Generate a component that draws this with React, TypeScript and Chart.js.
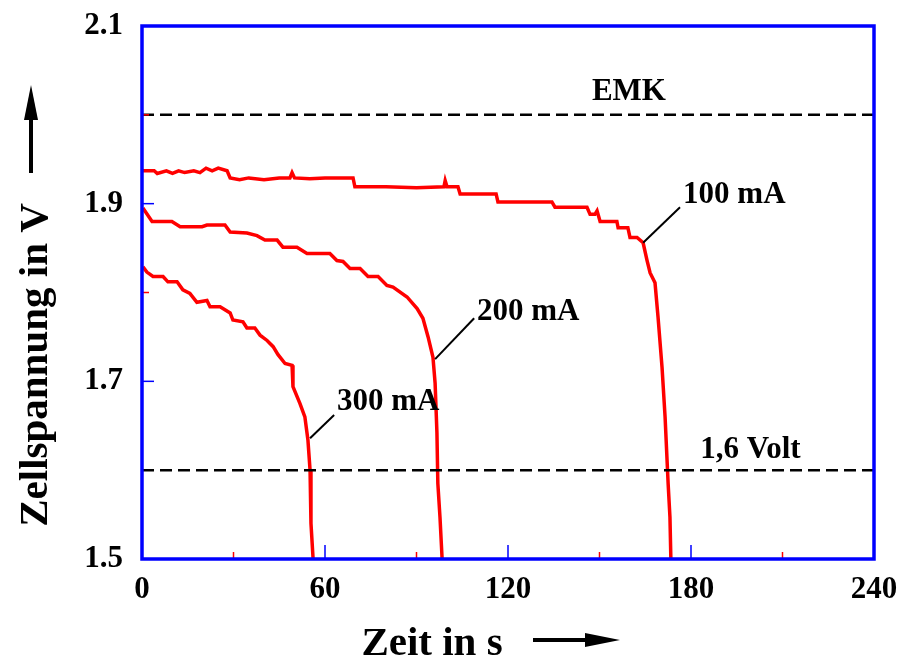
import React, { useEffect, useRef } from "react";
import { Chart, registerables } from "chart.js";

Chart.register(...registerables);

// ---- data ----
const xTicks = [0, 60, 120, 180, 240];
const yTicks = [1.5, 1.7, 1.9, 2.1];
const xMinorTicks = [30, 90, 150, 210];
const yMinorTicks = [1.8, 2.0];

const t100 = [0, 4, 5, 8, 10, 12, 14, 17, 19, 21, 23, 25, 27.9, 28.9, 32, 35, 40, 45, 48.5, 49.2, 50, 55, 60, 69.2, 69.8, 80, 90, 99, 99.4, 100, 103.6, 104.3, 116.1, 116.7, 134.4, 135.4, 145.9, 146.9, 148.5, 149.2, 150.2, 155.7, 156.1, 159.3, 160, 162.3, 164.3, 165.6, 166.6, 168.2, 169.2, 170.5, 171.5, 172.5, 173.1, 173.4];
const v100 = [1.937, 1.937, 1.934, 1.937, 1.934, 1.937, 1.935, 1.937, 1.935, 1.940, 1.937, 1.940, 1.937, 1.929, 1.927, 1.929, 1.927, 1.929, 1.929, 1.935, 1.929, 1.928, 1.929, 1.929, 1.919, 1.919, 1.918, 1.919, 1.926, 1.919, 1.919, 1.911, 1.911, 1.902, 1.902, 1.896, 1.896, 1.888, 1.888, 1.892, 1.880, 1.880, 1.873, 1.873, 1.862, 1.862, 1.856, 1.836, 1.822, 1.811, 1.772, 1.716, 1.660, 1.585, 1.547, 1.5];

const t200 = [0.3, 3.3, 9.8, 12.5, 19.7, 21.3, 27.2, 28.9, 34.4, 37.7, 40.3, 44.3, 46.2, 50.8, 54.1, 61.6, 63.9, 65.9, 68.2, 71.5, 74.1, 77.4, 80.3, 82.3, 86.9, 90.2, 92.1, 93.8, 95.4, 96.1, 96.7, 97.0, 97.7, 98.4];
const v200 = [1.895, 1.880, 1.880, 1.874, 1.874, 1.876, 1.876, 1.868, 1.867, 1.864, 1.859, 1.859, 1.851, 1.851, 1.844, 1.844, 1.836, 1.835, 1.827, 1.827, 1.818, 1.818, 1.808, 1.806, 1.795, 1.782, 1.771, 1.750, 1.727, 1.698, 1.642, 1.585, 1.547, 1.5];

const t300 = [0.3, 1.6, 3.6, 6.9, 8.5, 11.5, 13.4, 15.7, 18, 21.3, 22.3, 25.6, 28.9, 29.8, 33.1, 34.4, 37, 38.7, 41, 43, 44.6, 46.9, 49.2, 49.5, 51.8, 53.4, 54.4, 55.1, 55.4, 56.1];
const v300 = [1.829, 1.823, 1.818, 1.818, 1.812, 1.812, 1.803, 1.799, 1.789, 1.791, 1.784, 1.784, 1.777, 1.769, 1.767, 1.760, 1.760, 1.752, 1.746, 1.739, 1.730, 1.720, 1.718, 1.694, 1.675, 1.660, 1.634, 1.600, 1.540, 1.5];

const emk = 2.0;
const cutoff = 1.6;

// annotation texts (data units)
const noteText = ["EMK", "100 mA", "200 mA", "300 mA", "1,6 Volt"];
const noteX = [147.5, 177.4, 109.8, 63.9, 183];
const noteY = [2.017, 1.901, 1.769, 1.668, 1.614];
// leader lines (data units)
const leadX1 = [164.3, 96.1, 55.1];
const leadY1 = [1.856, 1.725, 1.636];
const leadX2 = [176.4, 108.9, 63.0];
const leadY2 = [1.896, 1.771, 1.662];

const xTitle = "Zeit in s";
const yTitle = "Zellspannung in V";

const FONT = "'Liberation Serif', 'Times New Roman', serif";

const toPts = (ts: number[], vs: number[]) => ts.map((t, i) => ({ x: t, y: vs[i] }));

const overlay = {
  id: "overlay",
  afterDatasetsDraw(chart: any) {
    const { ctx, chartArea, scales } = chart;
    const { left, right, top, bottom } = chartArea;
    const xs = scales.x;
    const ys = scales.y;
    ctx.save();
    // inner ticks
    ctx.lineWidth = 1.5;
    ctx.strokeStyle = "#0000ff";
    xTicks.slice(1, -1).forEach((v) => {
      const px = xs.getPixelForValue(v);
      ctx.beginPath(); ctx.moveTo(px, bottom); ctx.lineTo(px, bottom - 14); ctx.stroke();
    });
    yTicks.slice(1, -1).forEach((v) => {
      const py = ys.getPixelForValue(v);
      ctx.beginPath(); ctx.moveTo(left, py); ctx.lineTo(left + 12, py); ctx.stroke();
    });
    ctx.strokeStyle = "#ff0000";
    xMinorTicks.forEach((v) => {
      const px = xs.getPixelForValue(v);
      ctx.beginPath(); ctx.moveTo(px, bottom); ctx.lineTo(px, bottom - 7); ctx.stroke();
    });
    yMinorTicks.forEach((v) => {
      const py = ys.getPixelForValue(v);
      ctx.beginPath(); ctx.moveTo(left, py); ctx.lineTo(left + 7, py); ctx.stroke();
    });
    // border
    ctx.strokeStyle = "#0000ff";
    ctx.lineWidth = 3.5;
    ctx.strokeRect(left, top, right - left, bottom - top);
    // leader lines
    ctx.strokeStyle = "#000";
    ctx.lineWidth = 2;
    leadX1.forEach((_, i) => {
      ctx.beginPath();
      ctx.moveTo(xs.getPixelForValue(leadX1[i]), ys.getPixelForValue(leadY1[i]));
      ctx.lineTo(xs.getPixelForValue(leadX2[i]), ys.getPixelForValue(leadY2[i]));
      ctx.stroke();
    });
    // notes
    ctx.fillStyle = "#000";
    ctx.font = `bold 31px ${FONT}`;
    ctx.textAlign = "left";
    ctx.textBaseline = "alphabetic";
    noteText.forEach((s, i) => {
      ctx.fillText(s, xs.getPixelForValue(noteX[i]), ys.getPixelForValue(noteY[i]));
    });
    ctx.restore();
  },
  afterDraw(chart: any) {
    const { ctx } = chart;
    ctx.save();
    ctx.fillStyle = "#000";
    ctx.strokeStyle = "#000";
    ctx.font = `bold 41px ${FONT}`;
    ctx.textBaseline = "alphabetic";
    ctx.textAlign = "center";
    ctx.fillText(xTitle, 432, 655);
    // x arrow
    ctx.lineWidth = 4;
    ctx.beginPath(); ctx.moveTo(533, 640); ctx.lineTo(590, 640); ctx.stroke();
    ctx.beginPath(); ctx.moveTo(620, 640); ctx.lineTo(585, 633); ctx.lineTo(585, 647); ctx.closePath(); ctx.fill();
    // y title
    ctx.save();
    ctx.translate(47, 365);
    ctx.rotate(-Math.PI / 2);
    ctx.fillText(yTitle, 0, 0);
    ctx.restore();
    // y arrow
    ctx.beginPath(); ctx.moveTo(31, 173); ctx.lineTo(31, 115); ctx.stroke();
    ctx.beginPath(); ctx.moveTo(31, 85); ctx.lineTo(24, 120); ctx.lineTo(38, 120); ctx.closePath(); ctx.fill();
    ctx.restore();
  },
};

export default function App() {
  const ref = useRef<HTMLCanvasElement>(null);
  useEffect(() => {
    if (!ref.current) return;
    const red = "#ff0000";
    const curve = (label: string, data: any[]) => ({
      label,
      data,
      borderColor: red,
      borderWidth: 3.5,
      pointRadius: 0,
      tension: 0,
      fill: false,
    });
    const dashed = (label: string, v: number) => ({
      label,
      data: [{ x: 0, y: v }, { x: 240, y: v }],
      borderColor: "#000",
      borderWidth: 2.5,
      borderDash: [12, 6],
      pointRadius: 0,
      fill: false,
    });
    const chart = new Chart(ref.current, {
      type: "line",
      data: {
        datasets: [
          dashed("EMK", emk),
          dashed("1,6 Volt", cutoff),
          curve("100 mA", toPts(t100, v100)),
          curve("200 mA", toPts(t200, v200)),
          curve("300 mA", toPts(t300, v300)),
        ],
      },
      options: {
        animation: false,
        responsive: true,
        maintainAspectRatio: false,
        layout: { padding: { top: 26, right: 28, left: 0, bottom: 0 } },
        plugins: { legend: { display: false }, tooltip: { enabled: false } },
        scales: {
          x: {
            type: "linear",
            min: 0,
            max: 240,
            afterBuildTicks: (s: any) => { s.ticks = xTicks.map((v) => ({ value: v })); },
            afterFit: (s: any) => {
              s.height = 102;
              s.paddingLeft = 0; s.paddingRight = 0; s.paddingTop = 0; s.paddingBottom = 0;
            },
            grid: { display: false, drawTicks: false },
            border: { display: false },
            ticks: {
              padding: 12,
              color: "#000",
              maxRotation: 0,
              font: { family: FONT, size: 31, weight: "bold" },
            },
          },
          y: {
            type: "linear",
            min: 1.5,
            max: 2.1,
            afterBuildTicks: (s: any) => { s.ticks = yTicks.map((v) => ({ value: v })); },
            afterFit: (s: any) => {
              s.width = 142;
              s.paddingLeft = 0; s.paddingRight = 0; s.paddingTop = 0; s.paddingBottom = 0;
            },
            grid: { display: false, drawTicks: false },
            border: { display: false },
            ticks: {
              padding: 19,
              color: "#000",
              callback: (v: any) => Number(v).toFixed(1),
              font: { family: FONT, size: 31, weight: "bold" },
            },
          },
        },
      },
      plugins: [overlay],
    } as any);
    return () => chart.destroy();
  }, []);
  return (
    <div style={{ position: "absolute", left: 0, top: 0, width: 902, height: 661, background: "#fff" }}>
      <canvas ref={ref} />
    </div>
  );
}
